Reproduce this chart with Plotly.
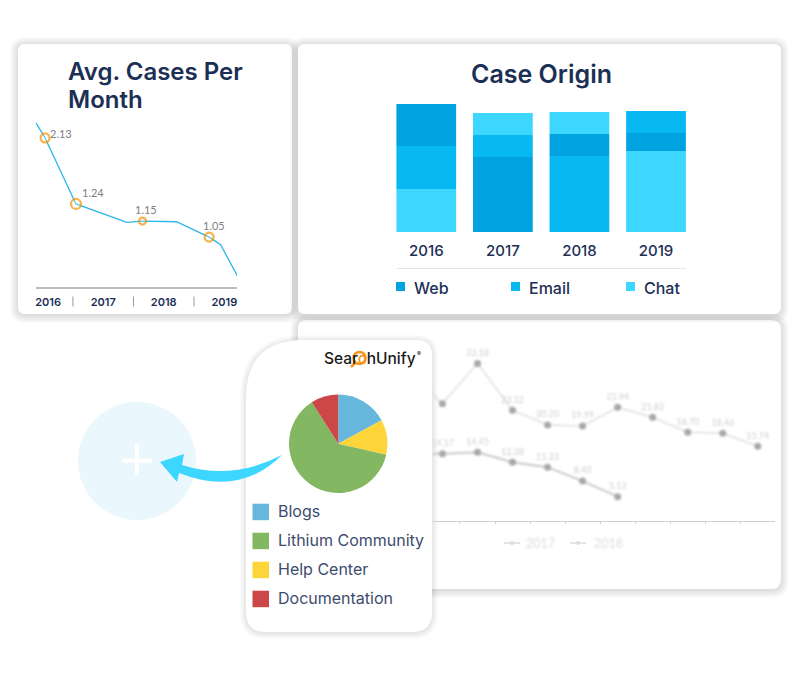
import plotly.graph_objects as go

W = 800
H = 677
NAVY = "#1c2f55"
HEAD = "Inter"
SOFT = "Lato"

# Avg. Cases Per Month (x in years, y)
avg_x = [2016.39, 2016.54, 2017.05, 2017.89, 2018.15, 2018.71, 2019.25, 2019.44, 2019.72]
avg_y = [2.345, 2.13, 1.185, 0.92, 0.94, 0.93, 0.71, 0.60, 0.15]
mark_x = [2016.54, 2017.05, 2018.15, 2019.25]
mark_y = [2.13, 1.185, 0.94, 0.71]
mark_labels = ["2.13", "1.24", "1.15", "1.05"]
mark_sizes = [9, 10, 7, 9]
year_ticks = [2016.59, 2017.5, 2018.5, 2019.5]
year_seps = [2017, 2018, 2019]

# Case Origin
years = ["2016", "2017", "2018", "2019"]
origins = ["Web", "Email", "Chat"]
web = [42, 75, 22, 18]
email = [43, 22, 76, 22]
chat = [43, 22, 22, 81]
origin_colors = ["#00a2e0", "#08b8f0", "#3dd6ff"]
# stacking order changes from year to year, bottom first
stack_order = [
    ["Chat", "Email", "Web"],
    ["Web", "Email", "Chat"],
    ["Email", "Web", "Chat"],
    ["Chat", "Web", "Email"],
]

# Pie
pie_labels = ["Blogs", "Help Center", "Lithium Community", "Documentation"]
pie_values = [17.1, 11.5, 62.4, 9.0]
pie_colors = ["#67b7dc", "#fdd53a", "#84b761", "#cc4748"]
legend_order = ["Blogs", "Lithium Community", "Help Center", "Documentation"]

# Faded line chart behind the popup
months = ["Jan", "Feb", "Mar", "Apr", "May", "Jun", "Jul", "Aug", "Sep", "Oct", "Nov", "Dec"]
y2017 = [None, 31.4, 24.69, 33.18, 23.32, 20.20, 19.99, 23.94, 21.83, 18.70, 18.46, 15.74]
y2018 = [None, 14.10, 14.17, 14.45, 12.38, 11.33, 8.40, 5.13]
lab2017 = ["", "", "", "33.18", "23.32", "20.20", "19.99", "23.94", "21.83", "18.70", "18.46", "15.74"]
lab2018 = ["", "", "14.17", "14.45", "12.38", "11.33", "8.40", "5.13"]


def fx(x):
    return x / W


def fy(y):
    return 1 - y / H


def rrect(x0, y0, x1, y1, tl, tr, br, bl):
    p = "M %f,%f " % (fx(x0 + tl), fy(y0))
    p += "L %f,%f " % (fx(x1 - tr), fy(y0))
    p += "Q %f,%f %f,%f " % (fx(x1), fy(y0), fx(x1), fy(y0 + tr))
    p += "L %f,%f " % (fx(x1), fy(y1 - br))
    p += "Q %f,%f %f,%f " % (fx(x1), fy(y1), fx(x1 - br), fy(y1))
    p += "L %f,%f " % (fx(x0 + bl), fy(y1))
    p += "Q %f,%f %f,%f " % (fx(x0), fy(y1), fx(x0), fy(y1 - bl))
    p += "L %f,%f " % (fx(x0), fy(y0 + tl))
    p += "Q %f,%f %f,%f Z" % (fx(x0), fy(y0), fx(x0 + tl), fy(y0))
    return p


def card(x0, y0, x1, y1, tl=7, tr=7, br=7, bl=7, grow=8, alpha=0.014):
    out = []
    for g in range(grow, 0, -1):
        out.append(dict(type="path", path=rrect(x0 - g, y0 - g + 1, x1 + g, y1 + g + 1, tl + g, tr + g, br + g, bl + g),
                        xref="paper", yref="paper", fillcolor="rgba(0,0,0,%f)" % alpha, line_width=0, layer="below"))
    out.append(dict(type="path", path=rrect(x0, y0, x1, y1, tl, tr, br, bl),
                    xref="paper", yref="paper", fillcolor="white", line_width=0, layer="below"))
    return out


def box(x0, y0, x1, y1, color):
    return dict(type="rect", xref="paper", yref="paper", x0=fx(x0), x1=fx(x1), y0=fy(y0), y1=fy(y1),
                fillcolor=color, line_width=0, layer="below")


def seg(x0, y0, x1, y1, color, width):
    return dict(type="line", xref="paper", yref="paper", x0=fx(x0), x1=fx(x1), y0=fy(y0), y1=fy(y1),
                line=dict(color=color, width=width), layer="below")


def label(x, y, text, size, color=NAVY, family=HEAD, weight=500, anchor="left"):
    return dict(xref="paper", yref="paper", x=fx(x), y=fy(y), text=text, showarrow=False, xanchor=anchor,
                yanchor="middle", align="left", font=dict(family=family, size=size, color=color, weight=weight))


shapes = []
shapes += card(298, 320, 781, 589, tl=8, tr=10, br=10, bl=8)
shapes += card(18, 44, 292, 314)
shapes += card(298, 44, 781, 314)

# year separators of the left chart
for sep in year_seps:
    shapes.append(dict(type="line", xref="x", yref="paper", x0=sep, x1=sep, y0=fy(296.5), y1=fy(306.5),
                       line=dict(color="#9a9a9a", width=1), layer="below"))

# circle with plus
shapes.append(dict(type="circle", xref="paper", yref="paper", x0=fx(78), x1=fx(196), y0=fy(402), y1=fy(520),
                   fillcolor="#eaf7fc", line_width=0, layer="below"))
shapes.append(box(122, 458.7, 152, 462.7, "white"))
shapes.append(box(135, 444, 139, 475, "white"))

shapes += card(246, 340, 432, 632, tl=58, tr=15, br=20, bl=20, grow=6, alpha=0.014)

# arrow
arrow = "M %f,%f L %f,%f L %f,%f Q %f,%f %f,%f Q %f,%f %f,%f L %f,%f L %f,%f Z" % (
    fx(160), fy(462), fx(184), fy(454), fx(182), fy(465),
    fx(232), fy(481), fx(282), fy(455),
    fx(240), fy(497), fx(179), fy(473),
    fx(177), fy(482), fx(160), fy(462))
shapes.append(dict(type="path", path=arrow, xref="paper", yref="paper", fillcolor="#3dd6ff", line_width=0, layer="below"))

# logo magnifier
shapes.append(dict(type="circle", xref="paper", yref="paper", x0=fx(353.5), x1=fx(365.5), y0=fy(352), y1=fy(364),
                   fillcolor="white", line=dict(color="#f7941d", width=2.5), layer="below"))
shapes.append(seg(355, 363, 351, 367, "#f7941d", 2.5))

# Case Origin divider and legend squares
shapes.append(seg(397, 268.5, 686, 268.5, "#e6e6e6", 1))
for sx, c in zip([396, 511, 626], origin_colors):
    shapes.append(box(sx, 282, sx + 9, 291, c))

# popup legend squares
for i, name in enumerate(legend_order):
    top = 503.7 + i * 29
    shapes.append(box(252.5, top, 269, top + 16.5, pie_colors[pie_labels.index(name)]))

# faded legend samples
for sx in [504, 570]:
    shapes.append(seg(sx, 543, sx + 16, 543, "#dddddd", 1.5))
    shapes.append(dict(type="circle", xref="paper", yref="paper", x0=fx(sx + 6), x1=fx(sx + 10), y0=fy(541), y1=fy(545),
                       fillcolor="#dddddd", line_width=0, layer="below"))

annotations = [
    label(66, 71, "Avg. Cases Per", 24, weight=600),
    label(66, 99, "Month", 24, weight=600),
    label(541, 74, "Case Origin", 25, weight=600, anchor="center"),
    label(412, 287.5, "Web", 16),
    label(527, 287.5, "Email", 16),
    label(642, 287.5, "Chat", 16),
    label(322, 358, "Sear<span style='color:#f7941d'>c</span>hUnify", 15.5, color="#1a1a1a"),
    label(415, 353, "®", 6, color="#1a1a1a"),
    label(524, 543, "2017", 12.5, color="#dcdcdc", family=SOFT, weight=400),
    label(592, 543, "2018", 12.5, color="#dcdcdc", family=SOFT, weight=400),
]
for i, name in enumerate(legend_order):
    annotations.append(label(276, 511 + i * 29, name, 16, color="#3d4c6e", weight=400))
for mx, my, txt, dx, dy in zip(mark_x, mark_y, mark_labels, [16, 17, 3, 5], [4, 11, 12, 12]):
    annotations.append(dict(xref="x", yref="y", x=mx, y=my, text=txt, showarrow=False, xshift=dx, yshift=dy,
                            font=dict(family=SOFT, size=11, color="#808080")))

fig = go.Figure()

# left chart
fig.add_trace(go.Scatter(x=avg_x, y=avg_y, mode="lines", line=dict(color="#29b6ea", width=1.3),
                         xaxis="x", yaxis="y", hoverinfo="skip"))
fig.add_trace(go.Scatter(x=mark_x, y=mark_y, mode="markers",
                         marker=dict(size=mark_sizes, color="rgba(255,255,255,0.4)",
                                     line=dict(color="#f59300", width=2.2)),
                         xaxis="x", yaxis="y", cliponaxis=False))

# stacked bars, base worked out from the per-year order
series = {"Web": web, "Email": email, "Chat": chat}
for name, color in zip(origins, origin_colors):
    bases = []
    for i in range(len(years)):
        below = stack_order[i][:stack_order[i].index(name)]
        bases.append(sum(series[b][i] for b in below))
    fig.add_trace(go.Bar(x=years, y=series[name], base=bases, name=name, marker=dict(color=color, line_width=0),
                         xaxis="x2", yaxis="y2"))

fig.add_trace(go.Pie(labels=pie_labels, values=pie_values, sort=False, direction="clockwise", rotation=0,
                     marker=dict(colors=pie_colors, line_width=0), textinfo="none",
                     domain=dict(x=[fx(289), fx(387.5)], y=[fy(493), fy(394.5)])))

# faded chart
fig.add_trace(go.Scatter(x=months, y=y2017, text=lab2017, mode="lines+markers+text", textposition="top center",
                         textfont=dict(family=SOFT, size=9, color="#cfcfcf"),
                         line=dict(color="#dedede", width=1.5), marker=dict(color="#a8a8a8", size=7),
                         xaxis="x3", yaxis="y3"))
fig.add_trace(go.Scatter(x=months[:len(y2018)], y=y2018, text=lab2018, mode="lines+markers+text",
                         textposition="top center", textfont=dict(family=SOFT, size=9, color="#cfcfcf"),
                         line=dict(color="#c8c8c8", width=2), marker=dict(color="#a8a8a8", size=7),
                         xaxis="x3", yaxis="y3"))

fig.update_layout(
    width=W, height=H, margin=dict(l=0, r=0, t=0, b=0), showlegend=False,
    paper_bgcolor="white", plot_bgcolor="rgba(0,0,0,0)", barmode="overlay", bargap=0.22,
    shapes=shapes, annotations=annotations,
    xaxis=dict(domain=[fx(36), fx(237)], range=[2016.39, 2019.71], anchor="y", showgrid=False, zeroline=False,
               showline=True, linecolor="#bdbdbd", linewidth=2, ticks="", tickmode="array", tickvals=year_ticks,
               ticktext=["2016", "2017", "2018", "2019"], ticklabelstandoff=4,
               tickfont=dict(family=HEAD, size=11, color=NAVY, weight=600)),
    yaxis=dict(domain=[fy(286.7), fy(110)], range=[0, 2.53], anchor="x", visible=False),
    xaxis2=dict(domain=[fx(388), fx(694.3)], type="category", anchor="y2", showgrid=False, zeroline=False,
                showline=False, ticks="", ticklabelstandoff=8,
                tickfont=dict(family=HEAD, size=15, color=NAVY, weight=500)),
    yaxis2=dict(domain=[fy(232), fy(104)], range=[0, 128], anchor="x2", visible=False),
    xaxis3=dict(domain=[fx(433), fx(775.3)], type="category", categoryorder="array", categoryarray=months,
                range=[1.73, 11.5], anchor="y3", showgrid=False, zeroline=False, showline=True, linecolor="#cfcfcf",
                linewidth=1, ticks="outside", ticklen=2, tickcolor="#cfcfcf", tickson="boundaries",
                showticklabels=False),
    yaxis3=dict(domain=[fy(521), fy(345)], range=[0, 37.05], anchor="x3", visible=False),
)

blur = """
document.body.style.margin = '0';
Array.from(document.querySelectorAll('.scatterlayer .trace')).slice(2).forEach(function (g) {
  g.style.filter = 'blur(1px)';
});
document.querySelectorAll('.annotation').forEach(function (a) {
  if (a.textContent === '2017' || a.textContent === '2018') a.style.filter = 'blur(1px)';
});
"""

fig.write_html("out.html", post_script=blur, config=dict(displayModeBar=False))
